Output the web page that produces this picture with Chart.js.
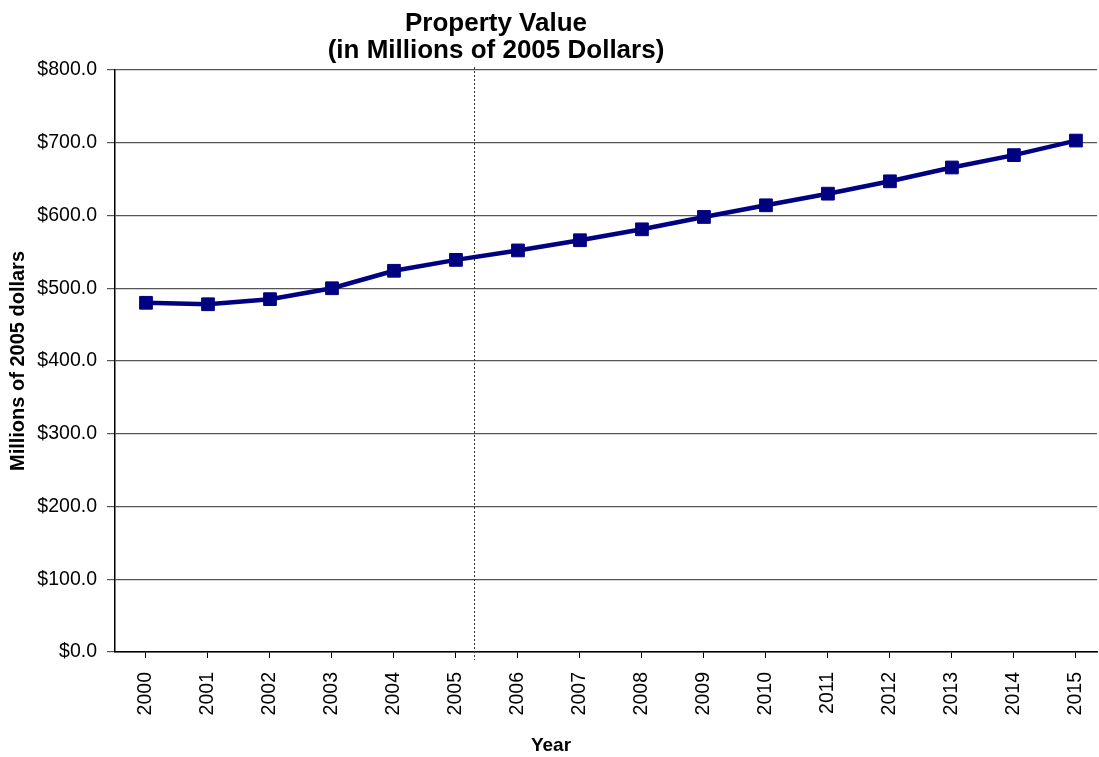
<!DOCTYPE html>
<html>
<head>
<meta charset="utf-8">
<script src="https://cdn.jsdelivr.net/npm/chart.js@4/dist/chart.umd.min.js"></script>
<style>
  html, body { margin: 0; padding: 0; background: #fff; }
  #wrap { position: relative; width: 1099px; height: 757px; }
  #chart { position: absolute; left: 0; top: 0; }
  .lbl { position: absolute; font-family: "Liberation Sans", Arial, sans-serif; font-weight: bold; color: #000; text-align: center; white-space: nowrap; }
  #title { left: 0; width: 992px; top: 9px; font-size: 26px; line-height: 27px; }
  #xTitle { left: 0; width: 1102px; top: 735px; font-size: 19px; line-height: 20px; }
</style>
</head>
<body>
<div id="wrap">
  <canvas id="chart" width="1099" height="757"></canvas>
  <div id="title" class="lbl">Property Value<br>(in Millions of 2005 Dollars)</div>
  <div id="xTitle" class="lbl">Year</div>
</div>
<script>
// 年份与物业价值（百万，2005 年美元）
const years = [2000, 2001, 2002, 2003, 2004, 2005, 2006, 2007,
  2008, 2009, 2010, 2011, 2012, 2013, 2014, 2015];
const propertyValue = [480, 478, 485, 500, 524, 539, 552, 566,
  581, 598, 614, 630, 647, 666, 683, 703];
const yTicks = [0, 100, 200, 300, 400, 500, 600, 700, 800];
// x 轴范围（年份，两端留白不对称，与原图一致）
const xMin = 1999.5, xMax = 2015.34;
// 虚线分隔位置（2005 与 2006 之间）
const dividerAt = 2005.29;

const FONT = '"Liberation Sans", Arial, sans-serif';

// 在数据线下方画竖直虚线
const dividerPlugin = {
  id: 'divider',
  beforeDatasetsDraw(chart) {
    const { ctx, chartArea, scales } = chart;
    const x = Math.round(scales.x.getPixelForValue(dividerAt)) + 0.5;
    ctx.save();
    ctx.strokeStyle = '#333';
    ctx.lineWidth = 1;
    ctx.setLineDash([2, 2]);
    ctx.beginPath();
    ctx.moveTo(x, chartArea.top - 3);
    ctx.lineTo(x, chartArea.bottom + 8);
    ctx.stroke();
    ctx.restore();
  }
};

new Chart(document.getElementById('chart'), {
  type: 'line',
  data: {
    datasets: [{
      data: years.map((y, i) => ({ x: y, y: propertyValue[i] })),
      borderColor: '#000080',
      backgroundColor: '#000080',
      borderWidth: 4.5,
      tension: 0,
      pointStyle: 'rect',
      pointRadius: 9,
      pointBorderWidth: 1,
      pointBorderColor: '#000080',
      pointBackgroundColor: '#000080'
    }]
  },
  options: {
    responsive: false,
    animation: false,
    layout: { autoPadding: false, padding: { top: 70, right: 2, bottom: 0, left: 0 } },
    plugins: {
      legend: { display: false },
      title: { display: false },
      tooltip: { enabled: false }
    },
    scales: {
      x: {
        type: 'linear',
        min: xMin, max: xMax,
        afterBuildTicks: s => { s.ticks = years.map(v => ({ value: v })); },
        grid: { display: true, drawOnChartArea: false, tickLength: 6, tickColor: '#000' },
        border: { color: '#000', width: 1.5 },
        ticks: {
          minRotation: 90, maxRotation: 90, padding: 14, autoSkip: false,
          color: '#000', font: { family: FONT, size: 19.5 },
          callback: v => String(v)
        },
        afterFit: s => { s.height = 105; s.paddingLeft = 0; s.paddingRight = 0; }
      },
      y: {
        min: 0, max: 800,
        afterBuildTicks: s => { s.ticks = yTicks.map(v => ({ value: v })); },
        grid: { color: '#555', lineWidth: 1.2, tickLength: 8, tickColor: '#555' },
        border: { color: '#000', width: 1.5 },
        ticks: {
          padding: 10, color: '#000', font: { family: FONT, size: 19.5 },
          callback: v => '$' + Number(v).toFixed(1)
        },
        title: {
          display: true, text: 'Millions of 2005 dollars', color: '#000',
          font: { family: FONT, size: 20, weight: 'bold' },
          padding: { top: 6, bottom: 0 }
        },
        afterFit: s => { s.width = 115; }
      }
    }
  },
  plugins: [dividerPlugin]
});
</script>
</body>
</html>
